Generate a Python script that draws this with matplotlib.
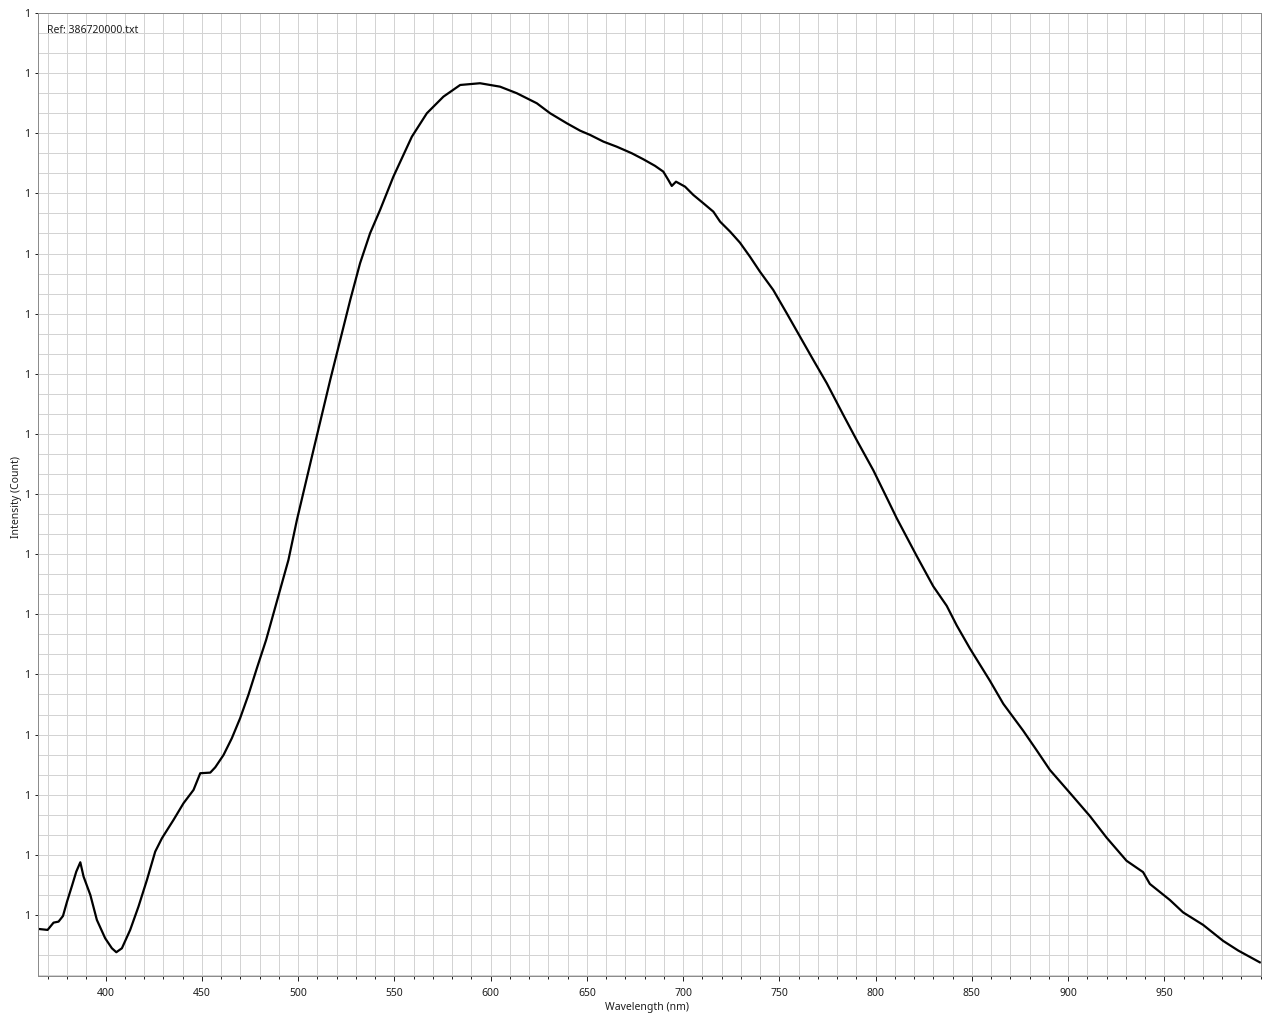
import matplotlib

matplotlib.use("Agg")
import matplotlib.pyplot as plt
from matplotlib.ticker import FixedLocator, FuncFormatter, MultipleLocator

# spectrum (wavelength in nm, intensity in y-tick steps)
wavelength_nm = [
    365.2, 369.9, 373.0, 375.6, 377.9, 380.0, 382.6, 384.8, 386.9, 388.6,
    392.1, 395.5, 399.8, 403.3, 405.6, 408.5, 412.8, 417.1, 421.5, 425.8,
    429.3, 435.3, 440.5, 445.7, 449.2, 454.4, 457.0, 461.3, 465.6, 469.9,
    474.2, 478.6, 483.4, 495.0, 499.4, 508.0, 516.7, 521.9, 527.1, 532.2,
    537.4, 542.6, 549.5, 559.1, 566.9, 575.5, 584.2, 594.5, 604.9, 613.6,
    624.0, 630.9, 639.6, 646.5, 651.7, 658.6, 665.5, 673.3, 679.3, 685.4,
    689.7, 692.3, 694.1, 696.3, 701.0, 705.3, 710.5, 715.7, 719.2, 724.4,
    729.5, 734.7, 739.9, 746.8, 753.8, 760.7, 767.6, 774.6, 783.2, 790.1,
    798.8, 806.5, 810.9, 821.3, 829.9, 836.9, 842.1, 849.0, 859.3, 866.3,
    876.6, 883.6, 890.5, 900.9, 911.3, 919.9, 930.3, 938.9, 942.4, 952.8,
    959.7, 970.1, 980.5, 988.3, 999.5,
]
intensity = [
    -0.233, -0.249, -0.128, -0.111, -0.017, 0.221, 0.487, 0.720, 0.876, 0.637,
    0.333, -0.083, -0.387, -0.554, -0.620, -0.554, -0.249, 0.138, 0.582, 1.053,
    1.276, 1.580, 1.858, 2.079, 2.357, 2.367, 2.456, 2.661, 2.939, 3.271,
    3.659, 4.103, 4.573, 5.904, 6.569, 7.733, 8.898, 9.563, 10.228, 10.838,
    11.337, 11.725, 12.278, 12.943, 13.333, 13.609, 13.803, 13.832, 13.775, 13.666,
    13.499, 13.333, 13.166, 13.043, 12.972, 12.861, 12.777, 12.668, 12.568, 12.458,
    12.362, 12.224, 12.124, 12.195, 12.112, 11.974, 11.836, 11.696, 11.530, 11.364,
    11.181, 10.948, 10.698, 10.394, 10.007, 9.618, 9.230, 8.843, 8.315, 7.900,
    7.394, 6.890, 6.600, 5.970, 5.466, 5.141, 4.815, 4.429, 3.897, 3.511,
    3.065, 2.739, 2.411, 2.029, 1.643, 1.287, 0.901, 0.712, 0.516, 0.249,
    0.042, -0.166, -0.432, -0.592, -0.788,
]

x_ticks = [400, 450, 500, 550, 600, 650, 700, 750, 800, 850, 900, 950]
y_ticks = list(range(16))
y_tick_label = "1"

FONT = "Noto Sans"
TXT = "#1e1e1e"
GRID = "#d3d3d3"
PX = 0.72  # one pixel in points at 100 dpi

fig = plt.figure(figsize=(12.8, 10.24), dpi=100)
ax = fig.add_axes([0.0295, 0.0469, 0.9556, 0.9404])

ax.plot(wavelength_nm, intensity, color="black", linewidth=1.6, solid_joinstyle="round")

ax.set_xlim(364.8, 1000.1)
ax.set_ylim(-1.015, 15.0)

ax.xaxis.set_major_locator(FixedLocator(x_ticks))
ax.xaxis.set_minor_locator(MultipleLocator(10))
ax.yaxis.set_major_locator(FixedLocator(y_ticks))
ax.yaxis.set_minor_locator(MultipleLocator(1 / 3))
ax.yaxis.set_major_formatter(FuncFormatter(lambda v, pos: y_tick_label))

ax.grid(True, which="both", color=GRID, linewidth=PX)
ax.set_axisbelow(True)

ax.tick_params(axis="x", which="major", direction="out", length=5 * PX, width=PX, color="#222222",
               labelsize=7.5, labelcolor=TXT, pad=5)
ax.tick_params(axis="x", which="minor", direction="out", length=3 * PX, width=PX, color="#222222")
ax.tick_params(axis="y", which="major", direction="out", length=3 * PX, width=PX, color="#222222",
               labelsize=7.5, labelcolor=TXT, pad=3)
ax.tick_params(axis="y", which="minor", length=0)
for lab in ax.get_xticklabels() + ax.get_yticklabels():
    lab.set_fontfamily(FONT)

for sp in ax.spines.values():
    sp.set_linestyle((0, (1, 1)))
    sp.set_color("#8c8c8c")
    sp.set_linewidth(PX)

ax.set_xlabel("Wavelength (nm)", fontsize=7.5, family=FONT, color=TXT, va="center")
ax.xaxis.set_label_coords(0.498, -0.0332)
ax.set_ylabel("Intensity (Count)", fontsize=7.5, family=FONT, color=TXT, va="center")
ax.yaxis.set_label_coords(-0.0172, 0.497)

ax.text(0.0075, 0.988, "Ref: 386720000.txt", transform=ax.transAxes, ha="left", va="top",
        fontsize=7.5, family=FONT, color=TXT)

fig.savefig("out.png", dpi=100)
